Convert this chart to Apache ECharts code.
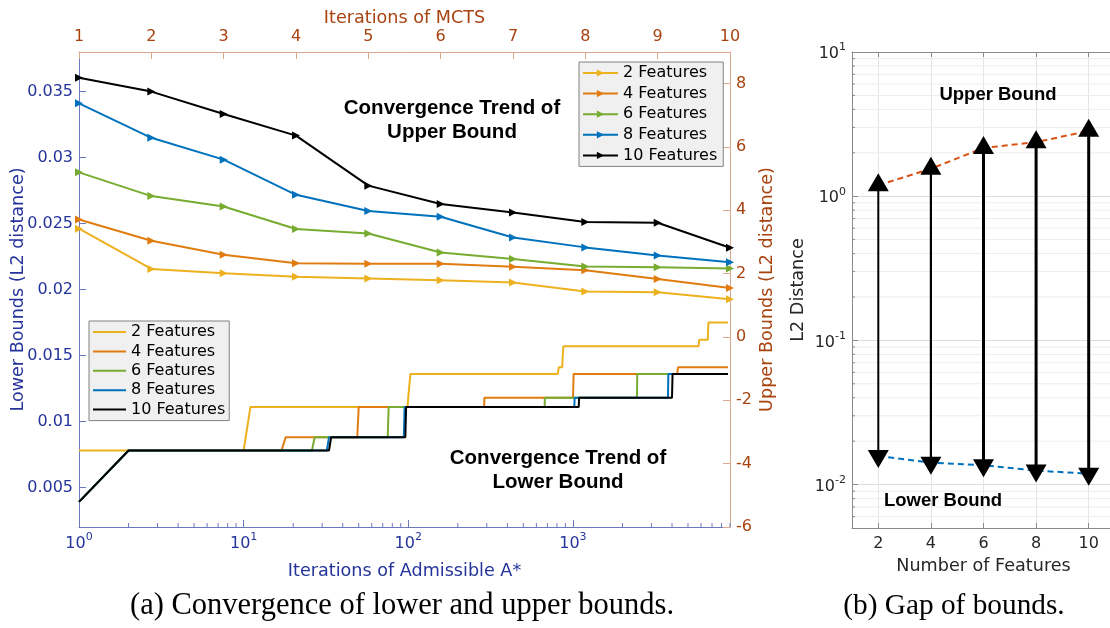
<!DOCTYPE html>
<html>
<head>
<meta charset="utf-8">
<script src="https://cdn.jsdelivr.net/npm/echarts@6/dist/echarts.min.js"></script>
<style>
  html, body { margin: 0; padding: 0; background: #ffffff; }
  #chart { width: 1110px; height: 628px; }
</style>
</head>
<body>
<div id="chart"></div>
<script>
// ---------------- data ----------------
const featureNames = ['2 Features', '4 Features', '6 Features', '8 Features', '10 Features'];

// upper bounds per MCTS iteration
const mctsIterations = [1, 2, 3, 4, 5, 6, 7, 8, 9, 10];
const upper2  = [3.42, 2.15, 2.01, 1.90, 1.85, 1.79, 1.72, 1.44, 1.41, 1.19];
const upper4  = [3.71, 3.04, 2.60, 2.33, 2.31, 2.31, 2.22, 2.11, 1.83, 1.55];
const upper6  = [5.20, 4.45, 4.12, 3.41, 3.27, 2.67, 2.46, 2.23, 2.20, 2.16];
const upper8  = [7.38, 6.29, 5.60, 4.49, 3.98, 3.80, 3.14, 2.83, 2.57, 2.36];
const upper10 = [8.19, 7.75, 7.04, 6.36, 4.78, 4.20, 3.93, 3.63, 3.61, 2.82];

// lower bounds: [iteration of admissible A*, lower bound] at each change
const lower2  = [[1, 0.0078], [10, 0.0078], [11, 0.0111], [99, 0.0111], [100, 0.0118], [101, 0.0118], [103, 0.0136],
                 [810, 0.0136], [820, 0.0141], [860, 0.0141], [875, 0.0157], [5800, 0.0157], [5850, 0.0162],
                 [6600, 0.0162], [6650, 0.0175], [8750, 0.0175]];
const lower4  = [[1, 0.0039], [2, 0.0078], [17, 0.0078], [18, 0.0088], [49, 0.0088], [50, 0.0111], [289, 0.0111],
                 [290, 0.0118], [1002, 0.0118], [1010, 0.0136], [4300, 0.0136], [4350, 0.0141], [8750, 0.0141]];
const lower6  = [[1, 0.0039], [2, 0.0078], [26, 0.0078], [27, 0.0088], [75, 0.0088], [76, 0.0111], [674, 0.0111],
                 [675, 0.0118], [2450, 0.0118], [2460, 0.0136], [8750, 0.0136]];
const lower8  = [[1, 0.0039], [2, 0.0078], [32, 0.0078], [33, 0.0088], [94, 0.0088], [95, 0.0111], [1020, 0.0111],
                 [1025, 0.0118], [3780, 0.0118], [3800, 0.0136], [8750, 0.0136]];
const lower10 = [[1, 0.0039], [2, 0.0078], [33, 0.0078], [34, 0.0088], [96, 0.0088], [97, 0.0111], [1085, 0.0111],
                 [1090, 0.0118], [4000, 0.0118], [4030, 0.0136], [8750, 0.0136]];

// gap of bounds per feature count
const featureCounts = [2, 4, 6, 8, 10];
const gapUpper = [1.19, 1.55, 2.16, 2.37, 2.84];
const gapLower = [0.0158, 0.0142, 0.0136, 0.0125, 0.0119];

// tick values
const lowerTicks = [0.005, 0.01, 0.015, 0.02, 0.025, 0.03, 0.035];
const featureTicks = [2, 4, 6, 8, 10];
const minorIterTicks = [2, 3, 4, 5, 6, 7, 8, 9, 20, 30, 40, 50, 60, 70, 80, 90,
                        200, 300, 400, 500, 600, 700, 800, 900, 2000, 3000, 4000, 5000, 6000, 7000, 8000, 9000];
const minorGapTicks = [0.006, 0.007, 0.008, 0.009, 0.02, 0.03, 0.04, 0.05, 0.06, 0.07, 0.08, 0.09,
                       0.2, 0.3, 0.4, 0.5, 0.6, 0.7, 0.8, 0.9, 2, 3, 4, 5, 6, 7, 8, 9];

// ---------------- styles ----------------
const SANS = 'DejaVu Sans';
const BLUE_TXT = '#25349a';
const BLUE_LINE = '#6d79bf';
const BROWN_TXT = '#a8420f';
const BROWN_LINE = '#dca88e';
const GRAY_TXT = '#262626';
const GRAY_LINE = '#8a8a8a';
const COLORS = ['#EDB120', '#E07C10', '#77AC30', '#0072BD', '#000000'];
const stemWidths = [2, 2.2, 3, 3, 3];

const upperSets = [upper2, upper4, upper6, upper8, upper10];
const lowerSets = [lower2, lower4, lower6, lower8, lower10];

const LOWER_MIN = 0.002, LOWER_MAX = 0.038;

function powLabel(v) {
  const e = Math.round(Math.log10(v));
  return '{b|10}{s|' + e + '}';
}
function powRich(color) {
  return {
    b: { fontSize: 16, fontFamily: SANS, color: color, lineHeight: 20, verticalAlign: 'bottom' },
    s: { fontSize: 11, fontFamily: SANS, color: color, lineHeight: 12, verticalAlign: 'top' }
  };
}
const stripTag = n => n.slice(3);

const series = [];

// lower bound traces (left axis, bottom log axis)
lowerSets.forEach((d, i) => {
  series.push({
    name: 'LB ' + featureNames[i], type: 'line', xAxisIndex: 0, yAxisIndex: 0,
    data: d, showSymbol: false, symbol: 'none',
    lineStyle: { color: COLORS[i], width: 2 }, itemStyle: { color: COLORS[i] },
    z: 3 + i, silent: true
  });
});

// upper bound traces (right axis, top MCTS axis)
upperSets.forEach((d, i) => {
  series.push({
    name: 'UB ' + featureNames[i], type: 'line', xAxisIndex: 1, yAxisIndex: 1,
    data: mctsIterations.map((it, k) => [it, d[k]]),
    symbol: 'triangle', symbolRotate: -90, symbolSize: 8,
    lineStyle: { color: COLORS[i], width: 2 }, itemStyle: { color: COLORS[i] },
    z: 10 + i, silent: true
  });
});

// minor ticks of the log iteration axis
series.push({
  type: 'custom', xAxisIndex: 0, yAxisIndex: 0, silent: true, z: 20,
  data: minorIterTicks.map(v => [v, LOWER_MIN]),
  renderItem: (params, api) => {
    const p = api.coord([api.value(0), LOWER_MIN]);
    return { type: 'line', shape: { x1: p[0], y1: p[1], x2: p[0], y2: p[1] - 4 },
             style: { stroke: BLUE_LINE, lineWidth: 1 } };
  }
});

// minor grid lines and ticks of the gap panel
series.push({
  type: 'custom', xAxisIndex: 2, yAxisIndex: 2, silent: true, z: 0,
  data: minorGapTicks.map(v => [1, v]),
  renderItem: (params, api) => {
    const v = api.value(1);
    const a = api.coord([1, v]), b = api.coord([11, v]);
    return { type: 'group', children: [
      { type: 'line', shape: { x1: a[0], y1: a[1], x2: b[0], y2: b[1] }, style: { stroke: '#ededed', lineWidth: 1 } },
      { type: 'line', shape: { x1: a[0], y1: a[1], x2: a[0] + 3, y2: a[1] }, style: { stroke: GRAY_LINE, lineWidth: 1 } }
    ] };
  }
});

// dashed bound lines of the gap panel
series.push({
  type: 'line', xAxisIndex: 2, yAxisIndex: 2, silent: true, z: 5,
  data: featureCounts.map((f, i) => [f, gapUpper[i]]), symbol: 'none',
  lineStyle: { color: '#D95319', width: 2, type: [6, 4] }
});
series.push({
  type: 'line', xAxisIndex: 2, yAxisIndex: 2, silent: true, z: 5,
  data: featureCounts.map((f, i) => [f, gapLower[i]]), symbol: 'none',
  lineStyle: { color: '#0072BD', width: 2, type: [6, 4] }
});

// double-headed arrows from lower to upper bound
series.push({
  type: 'custom', xAxisIndex: 2, yAxisIndex: 2, silent: true, z: 8,
  data: featureCounts.map((f, i) => [f, gapLower[i], gapUpper[i]]),
  renderItem: (params, api) => {
    const x = api.value(0);
    const lo = api.coord([x, api.value(1)]);
    const hi = api.coord([x, api.value(2)]);
    const w = 21, h = 18;
    return { type: 'group', children: [
      { type: 'line', shape: { x1: lo[0], y1: lo[1], x2: hi[0], y2: hi[1] },
        style: { stroke: '#000', lineWidth: stemWidths[params.dataIndex] } },
      { type: 'polygon', shape: { points: [[hi[0], hi[1] - h * 2 / 3], [hi[0] - w / 2, hi[1] + h / 3], [hi[0] + w / 2, hi[1] + h / 3]] },
        style: { fill: '#000' } },
      { type: 'polygon', shape: { points: [[lo[0], lo[1] + h * 2 / 3], [lo[0] - w / 2, lo[1] - h / 3], [lo[0] + w / 2, lo[1] - h / 3]] },
        style: { fill: '#000' } }
    ] };
  }
});

const legendBase = {
  orient: 'vertical', selectedMode: false, formatter: stripTag,
  backgroundColor: '#f0f0f0', borderColor: '#808080', borderWidth: 1, borderRadius: 0,
  textStyle: { fontFamily: SANS, fontSize: 16, color: '#000', lineHeight: 16 }
};

const noLineOnZero = { show: true, onZero: false };

const option = {
  animation: false,
  backgroundColor: '#ffffff',
  grid: [
    { left: 79, top: 52, width: 651, height: 475, containLabel: false, outerBoundsMode: 'none' },
    { left: 852, top: 52, width: 263, height: 476, containLabel: false, outerBoundsMode: 'none' }
  ],
  legend: [
    Object.assign({}, legendBase, {
      data: featureNames.map(n => 'UB ' + n), left: 579, top: 62,
      itemWidth: 35, itemHeight: 9, itemGap: 4.6, padding: [3, 6, 3, 3]
    }),
    Object.assign({}, legendBase, {
      data: featureNames.map(n => 'LB ' + n), left: 89, top: 321, icon: 'rect',
      itemWidth: 33, itemHeight: 2, itemGap: 3.4, padding: [3, 4, 3, 4]
    })
  ],
  xAxis: [
    { // iterations of admissible A*
      type: 'log', gridIndex: 0, logBase: 10, min: 1, max: 9000, position: 'bottom',
      name: 'Iterations of Admissible A*', nameLocation: 'middle', nameGap: 35, nameMoveOverlap: false,
      nameTextStyle: { color: BLUE_TXT, fontFamily: SANS, fontSize: 17.6 },
      axisLine: Object.assign({ lineStyle: { color: BLUE_LINE, width: 1 } }, noLineOnZero),
      axisTick: { show: true, inside: true, length: 7, lineStyle: { color: BLUE_LINE } },
      axisLabel: { formatter: powLabel, rich: powRich(BLUE_TXT), margin: 5, showMaxLabel: false },
      splitLine: { show: false }, minorTick: { show: false }
    },
    { // iterations of MCTS
      type: 'value', gridIndex: 0, min: 1, max: 10, interval: 1, position: 'top',
      name: 'Iterations of MCTS', nameLocation: 'middle', nameGap: 25, nameMoveOverlap: false,
      nameTextStyle: { color: BROWN_TXT, fontFamily: SANS, fontSize: 17.6 },
      axisLine: Object.assign({ lineStyle: { color: BROWN_LINE, width: 1 } }, noLineOnZero),
      axisTick: { show: true, inside: true, length: 7, lineStyle: { color: BROWN_LINE } },
      axisLabel: { color: BROWN_TXT, fontFamily: SANS, fontSize: 16, margin: 7 },
      splitLine: { show: false }
    },
    { // number of features
      type: 'value', gridIndex: 1, min: 1, max: 11, position: 'bottom',
      name: 'Number of Features', nameLocation: 'middle', nameGap: 29, nameMoveOverlap: false,
      nameTextStyle: { color: GRAY_TXT, fontFamily: SANS, fontSize: 17.6 },
      axisLine: Object.assign({ lineStyle: { color: GRAY_LINE, width: 1 } }, noLineOnZero),
      axisTick: { show: true, inside: true, length: 5, customValues: featureTicks, lineStyle: { color: GRAY_LINE } },
      axisLabel: { color: GRAY_TXT, fontFamily: SANS, fontSize: 16, margin: 8, customValues: featureTicks },
      splitLine: { show: true, lineStyle: { color: '#e4e4e4', width: 1 } }
    },
    { // top frame of the gap panel
      type: 'value', gridIndex: 1, min: 1, max: 11, position: 'top',
      axisLine: Object.assign({ lineStyle: { color: GRAY_LINE, width: 1 } }, noLineOnZero),
      axisTick: { show: true, inside: true, length: 5, customValues: featureTicks, lineStyle: { color: GRAY_LINE } },
      axisLabel: { show: false, customValues: featureTicks },
      splitLine: { show: false }
    }
  ],
  yAxis: [
    { // lower bounds
      type: 'value', gridIndex: 0, min: LOWER_MIN, max: LOWER_MAX, position: 'left',
      name: 'Lower Bounds (L2 distance)', nameLocation: 'middle', nameGap: 52, nameRotate: 90, nameMoveOverlap: false,
      nameTextStyle: { color: BLUE_TXT, fontFamily: SANS, fontSize: 17.6 },
      axisLine: Object.assign({ lineStyle: { color: BLUE_LINE, width: 1 } }, noLineOnZero),
      axisTick: { show: true, inside: true, length: 7, customValues: lowerTicks, lineStyle: { color: BLUE_LINE } },
      axisLabel: { color: BLUE_TXT, fontFamily: SANS, fontSize: 16, margin: 6, customValues: lowerTicks },
      splitLine: { show: false }
    },
    { // upper bounds
      type: 'value', gridIndex: 0, min: -6, max: 9, interval: 2, position: 'right',
      name: 'Upper Bounds (L2 distance)', nameLocation: 'middle', nameGap: 28, nameRotate: 90, nameMoveOverlap: false,
      nameTextStyle: { color: BROWN_TXT, fontFamily: SANS, fontSize: 17.6 },
      axisLine: Object.assign({ lineStyle: { color: BROWN_LINE, width: 1 } }, noLineOnZero),
      axisTick: { show: true, inside: true, length: 7, lineStyle: { color: BROWN_LINE } },
      axisLabel: { color: BROWN_TXT, fontFamily: SANS, fontSize: 16, margin: 6, showMaxLabel: false },
      splitLine: { show: false }
    },
    { // L2 distance (log)
      type: 'log', gridIndex: 1, logBase: 10, min: 0.005, max: 10, position: 'left',
      name: 'L2 Distance', nameLocation: 'middle', nameGap: 45, nameRotate: 90, nameMoveOverlap: false,
      nameTextStyle: { color: GRAY_TXT, fontFamily: SANS, fontSize: 17.6 },
      axisLine: Object.assign({ lineStyle: { color: GRAY_LINE, width: 1 } }, noLineOnZero),
      axisTick: { show: true, inside: true, length: 6, lineStyle: { color: GRAY_LINE } },
      axisLabel: { formatter: powLabel, rich: powRich(GRAY_TXT), margin: 6, showMinLabel: false },
      splitLine: { show: true, lineStyle: { color: '#dcdcdc', width: 1 } }
    }
  ],
  graphic: [
    { type: 'text', x: 452, y: 120, z: 50, silent: true,
      style: { text: 'Convergence Trend of\nUpper Bound', fontFamily: 'Liberation Sans', fontWeight: 'bold',
               fontSize: 20.5, lineHeight: 24, align: 'center', verticalAlign: 'middle', fill: '#000' } },
    { type: 'text', x: 558, y: 470.5, z: 50, silent: true,
      style: { text: 'Convergence Trend of\nLower Bound', fontFamily: 'Liberation Sans', fontWeight: 'bold',
               fontSize: 20.5, lineHeight: 24.4, align: 'center', verticalAlign: 'middle', fill: '#000' } },
    { type: 'text', x: 998, y: 95, z: 50, silent: true,
      style: { text: 'Upper Bound', fontFamily: 'Liberation Sans', fontWeight: 'bold',
               fontSize: 18.5, align: 'center', verticalAlign: 'middle', fill: '#000' } },
    { type: 'text', x: 943, y: 501, z: 50, silent: true,
      style: { text: 'Lower Bound', fontFamily: 'Liberation Sans', fontWeight: 'bold',
               fontSize: 18.5, align: 'center', verticalAlign: 'middle', fill: '#000' } },
    { type: 'text', x: 402, y: 606, z: 50, silent: true,
      style: { text: '(a) Convergence of lower and upper bounds.', fontFamily: 'Liberation Serif',
               fontSize: 30.5, align: 'center', verticalAlign: 'middle', fill: '#000' } },
    { type: 'text', x: 954, y: 606, z: 50, silent: true,
      style: { text: '(b) Gap of bounds.', fontFamily: 'Liberation Serif',
               fontSize: 29.3, align: 'center', verticalAlign: 'middle', fill: '#000' } }
  ],
  series: series
};

const chart = echarts.init(document.getElementById('chart'), null, { renderer: 'canvas' });
chart.setOption(option);
</script>
</body>
</html>
